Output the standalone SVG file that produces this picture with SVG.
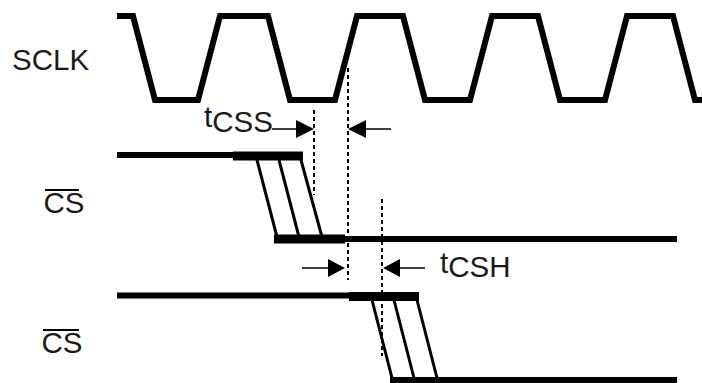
<svg xmlns="http://www.w3.org/2000/svg" width="702" height="383" viewBox="0 0 702 383">
<style>
.l{fill:none;stroke:#000;stroke-linejoin:miter}
.w{stroke-width:6}.b{stroke-width:9}.s{stroke-width:3}.a{stroke-width:1.6}
.d{fill:none;stroke:#000;stroke-width:2;stroke-dasharray:4 3}
.h{fill:#000}
text{font-family:"Liberation Sans",Arial,sans-serif;font-size:29.5px;fill:#1a1a1a}
</style>
<rect width="702" height="383" fill="#fff"/>
<g id="label-sclk"><text x="12" y="70">SCLK</text></g>
<g id="label-cs1"><text x="43.500" y="213">CS</text><path class="l" stroke-width="1.8" d="M45 190H79"/></g>
<g id="label-cs2"><text x="41.500" y="353">CS</text><path class="l" stroke-width="1.8" d="M43 330H79"/></g>
<g id="label-tcss"><text x="204" y="127">t<tspan dy="5">CSS</tspan></text></g>
<g id="label-tcsh"><text x="440" y="273">t<tspan dy="4">CSH</tspan></text></g>
<g id="connectors">
<path id="sclk" class="l" stroke-width="6" d="M117 16H133L155 100H198L220 16H268L290 100H335L357 16H403L425 100H470L492 16H538L560 100H605L627 16H673L695 100H702"/>
<path class="l w" d="M117 155H233"/>
<path class="l b" d="M233 156H303"/>
<path class="l s" d="M257 160L277 237M279 160L299 237M301 160L322 237"/>
<path class="l b" d="M274 239H345"/>
<path class="l w" d="M345 239H677"/>
<path class="l w" d="M117 295.500H350"/>
<path class="l b" d="M349 296.500H419"/>
<path class="l s" d="M372 300L392 378M394 300L414 378M417 300L437 378"/>
<path class="l w" d="M390 380H677"/>
<path class="d" d="M314 110V195M348 68V280M382 199V356"/>
<path class="l a" d="M272 129H297M366 129H391M302 268H329M400 268H425"/>
<path class="h" d="M296 120L314 129L296 138ZM366 120L348 129L366 138ZM328 259L345 268L328 277ZM400 259L383 268L400 277Z"/>
</g>
</svg>
